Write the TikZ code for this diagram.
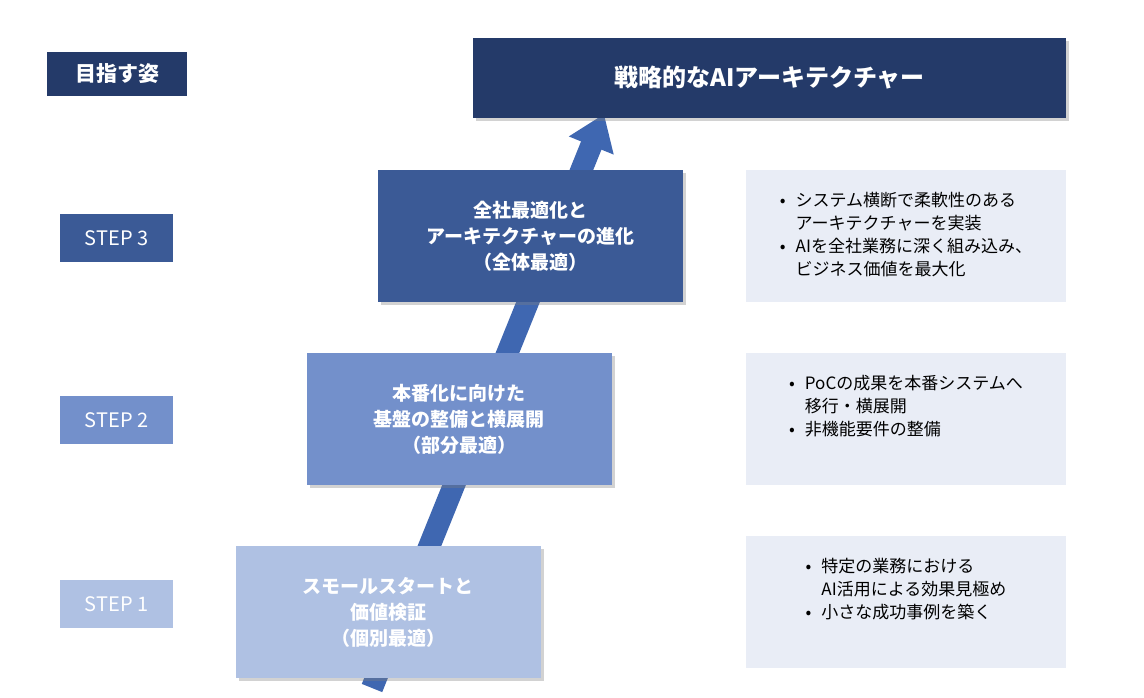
\documentclass[tikz,border=0pt]{standalone}
\usepackage{fontspec}
\setmainfont{Noto Sans CJK JP}
\usetikzlibrary{arrows.meta,shadows}
\definecolor{navy}{HTML}{243A69}
\definecolor{s3}{HTML}{3B5A96}
\definecolor{s2}{HTML}{7390CB}
\definecolor{s1}{HTML}{AFC1E3}
\definecolor{pale}{HTML}{E9EDF6}
\definecolor{arr}{HTML}{3F67B1}
\begin{document}
\begin{tikzpicture}[x=1pt,y=-1pt,
  lab/.style={minimum width=113pt,minimum height=48pt,inner sep=0,text=white,font=\fontsize{20}{24}\selectfont},
  box/.style={minimum width=305pt,minimum height=132pt,inner sep=0,text=white,align=center,font=\fontsize{19}{26}\selectfont\bfseries,drop shadow={opacity=0.35,shadow xshift=3pt,shadow yshift=-3pt}},
  note/.style={fill=pale,minimum width=320pt,minimum height=132pt,inner sep=0,text=black,align=left,font=\fontsize{17}{23}\selectfont}]
\useasboundingbox (0,0) rectangle (1144,698);
\fill[white] (0,0) rectangle (1144,698);
\coordinate (a0) at (372,688);
\coordinate (a1) at (604,114);
\draw[arr,line width=22pt,-{Triangle[width=46pt,length=34pt]}] (a0) -- (a1);
\node[lab,fill=navy,minimum width=140pt,minimum height=44pt,font=\fontsize{21}{24}\selectfont\bfseries] (goal) at (117,74) {目指す姿};
\node[fill=navy,minimum width=593pt,minimum height=80pt,text=white,font=\fontsize{24}{28}\selectfont\bfseries,drop shadow={opacity=0.35,shadow xshift=3pt,shadow yshift=-3pt}] (top) at (769.5,78) {戦略的なAIアーキテクチャー};
\node[lab,fill=s3] (l3) at (116.5,238) {STEP 3};
\node[lab,fill=s2] (l2) at (116.5,420) {STEP 2};
\node[lab,fill=s1] (l1) at (116.5,604) {STEP 1};
\node[box,fill=s3] (b3) at (530.5,236) {全社最適化と\\アーキテクチャーの進化\\（全体最適）};
\node[box,fill=s2] (b2) at (459,419) {本番化に向けた\\基盤の整備と横展開\\（部分最適）};
\node[box,fill=s1] (b1) at (388,612) {スモールスタートと\\価値検証\\（個別最適）};
\node[note] (n3) at (906,236) {\begin{tabular}{@{}l@{\hspace{10pt}}l@{}}•&システム横断で柔軟性のある\\&アーキテクチャーを実装\\•&AIを全社業務に深く組み込み、\\&ビジネス価値を最大化\end{tabular}};
\node[note] (n2) at (906,419) {\begin{tabular}{@{}l@{\hspace{10pt}}l@{}}•&PoCの成果を本番システムへ\\&移行・横展開\\•&非機能要件の整備\\&\end{tabular}};
\node[note] (n1) at (906,602) {\begin{tabular}{@{}l@{\hspace{10pt}}l@{}}•&特定の業務における\\&AI活用による効果見極め\\•&小さな成功事例を築く\\&\end{tabular}};
\end{tikzpicture}
\end{document}
